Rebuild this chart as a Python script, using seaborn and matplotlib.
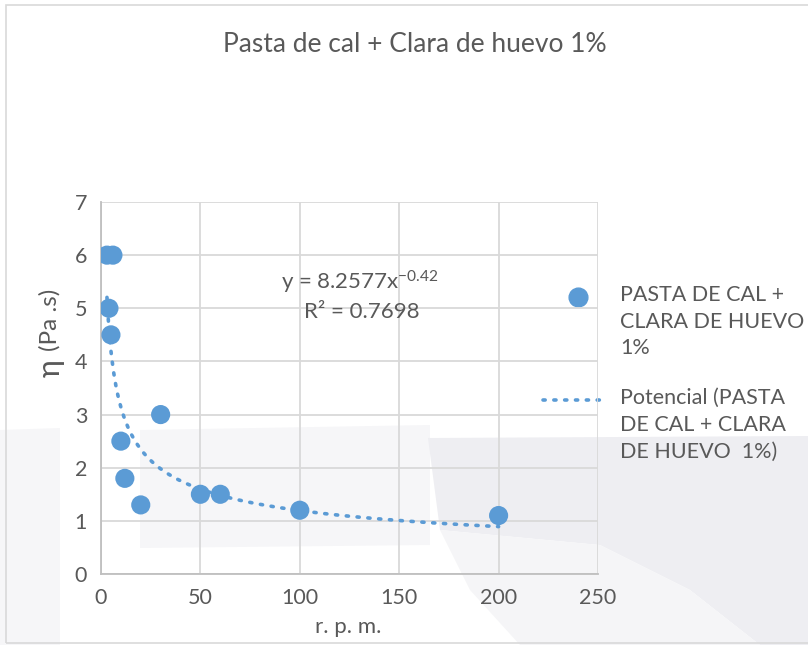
import numpy as np
import pandas as pd
import matplotlib
matplotlib.use("Agg")
import matplotlib.pyplot as plt
from matplotlib.patches import Polygon, Rectangle
from matplotlib.lines import Line2D
import seaborn as sns

# Viscosity measurements: rotational speed (r.p.m.) vs apparent viscosity (Pa.s)
rpm = [3, 6, 4, 5, 10, 12, 20, 30, 50, 60, 100, 200]
viscosity = [6.0, 6.0, 5.0, 4.5, 2.5, 1.8, 1.3, 3.0, 1.5, 1.5, 1.2, 1.1]

# Power-law trendline coefficients
coef_a = 8.2577
coef_b = -0.42
r_squared = 0.7698

title = "Pasta de cal + Clara de huevo 1%"
series_name = "PASTA DE CAL +\nCLARA DE HUEVO\n1%"
trend_name = "Potencial (PASTA\nDE CAL + CLARA\nDE HUEVO  1%)"
x_ticks = [0, 50, 100, 150, 200, 250]
y_ticks = [0, 1, 2, 3, 4, 5, 6, 7]

sns.set_theme(style="white")
FONT = ["Lato", "DejaVu Sans"]
plt.rcParams["font.family"] = FONT
plt.rcParams["mathtext.fontset"] = "custom"
plt.rcParams["mathtext.rm"] = "Lato"
plt.rcParams["mathtext.it"] = "Lato"
TXT = "#595959"
BLUE = "#5b9bd5"
GRID = "#d9d9d9"
DOTS = (0, (0.6, 2.4))

W, H = 808, 645
fig = plt.figure(figsize=(W / 100, H / 100), dpi=100)
fig.patch.set_facecolor("white")


def px(x, y):
    return (x / W, 1 - y / H)


# faint background shapes
shapes = [
    ([(140, 430), (430, 425), (430, 545), (140, 548)], "#f6f6f8"),
    ([(0, 430), (60, 428), (60, 645), (0, 645)], "#f6f6f8"),
    ([(428, 438), (808, 436), (808, 645), (760, 645), (690, 590), (600, 545), (440, 530)], "#eeeef2"),
    ([(440, 530), (600, 545), (690, 590), (760, 645), (520, 645), (470, 590)], "#f5f5f7"),
]
for pts, col in shapes:
    fig.patches.append(Polygon([px(*p) for p in pts], closed=True, transform=fig.transFigure,
                               facecolor=col, edgecolor="none", zorder=-5))

# chart border
x0, y0 = px(6, 643)
x1, y1 = px(806, 5)
fig.patches.append(Rectangle((x0, y0), x1 - x0 + 0.02, y1 - y0, transform=fig.transFigure,
                             facecolor="none", edgecolor="#d9d9d9", lw=1.2, zorder=-4))

ax = fig.add_axes([101 / W, 1 - 574 / H, (598 - 101) / W, (574 - 202) / H])
ax.set_facecolor("none")
ax.set_zorder(2)

df = pd.DataFrame({"rpm": rpm, "viscosity": viscosity})

# trendline over the measured range
xs = np.linspace(min(rpm), max(rpm), 400)
trend = pd.DataFrame({"rpm": xs, "fit": coef_a * xs ** coef_b})
sns.lineplot(data=trend, x="rpm", y="fit", ax=ax, color=BLUE, lw=2.6,
             linestyle=DOTS, zorder=3)
ax.lines[-1].set_dash_capstyle("round")

sns.scatterplot(data=df, x="rpm", y="viscosity", ax=ax, color=BLUE, s=190,
                edgecolor="none", zorder=4)

ax.set_xlim(0, 250)
ax.set_ylim(0, 7)
ax.set_xticks(x_ticks)
ax.set_yticks(y_ticks)
ax.grid(True, color=GRID, lw=1.3)
ax.set_axisbelow(True)
for s in ["top", "right"]:
    ax.spines[s].set_visible(False)
for s in ["left", "bottom"]:
    ax.spines[s].set_color("#bfbfbf")
    ax.spines[s].set_linewidth(1.3)
ax.tick_params(axis="both", length=0, labelsize=15.5, colors=TXT, pad=10)
ax.set_xlabel("")
ax.set_ylabel("")

# equation of the trendline
ax.text(0.52, 0.785, f"y = {coef_a}x$^{{{coef_b}}}$", transform=ax.transAxes,
        ha="center", va="center", fontsize=16, color=TXT)
ax.text(0.525, 0.705, f"R² = {r_squared}", transform=ax.transAxes,
        ha="center", va="center", fontsize=16, color=TXT)

# titles and axis labels
fig.text(*px(415, 45), title, ha="center", va="center", fontsize=19, color=TXT)
fig.text(*px(348, 627), "r. p. m.", ha="center", va="center", fontsize=16, color=TXT)
fig.text(*px(51, 368), "η", ha="center", va="center", fontsize=22, color=TXT, rotation=90)
fig.text(*px(50, 320), "(Pa .s)", ha="center", va="center", fontsize=17.5, color=TXT, rotation=90)

# legend entries, drawn in figure pixels with the symbol level with the first text line
lx, lw_ = 543, 64
fig.add_artist(Line2D([px(578, 0)[0]], [px(0, 297)[1]], marker="o", color=BLUE,
                      linestyle="none", markersize=13.5, transform=fig.transFigure))
fig.add_artist(Line2D([px(lx, 0)[0], px(lx + lw_, 0)[0]], [px(0, 400)[1]] * 2, color=BLUE,
                      lw=2.6, linestyle=DOTS, dash_capstyle="round", transform=fig.transFigure))
for label, ytop in [(series_name, 297), (trend_name, 400)]:
    fig.text(*px(620, ytop - 12), label, ha="left", va="top", fontsize=15.5,
             color=TXT, linespacing=1.42)

fig.savefig("out.png", dpi=100, facecolor="white")
